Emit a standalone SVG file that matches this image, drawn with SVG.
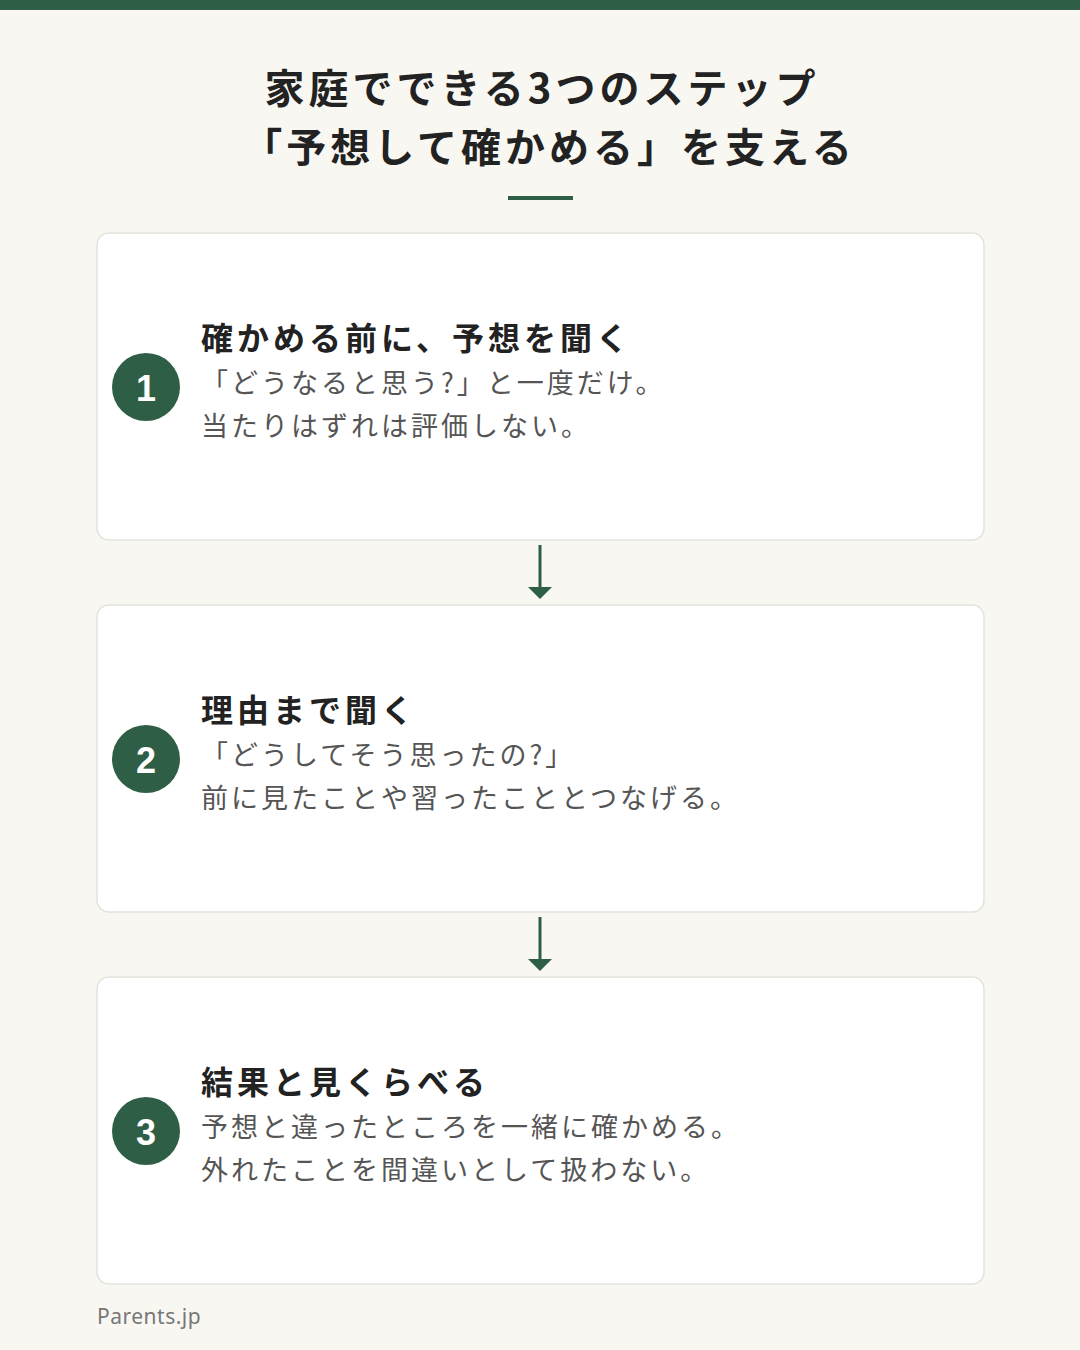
<svg xmlns="http://www.w3.org/2000/svg" width="1080" height="1350" viewBox="0 0 1080 1350">
<style>
.t{font-family:"Noto Sans CJK JP","Noto Sans",sans-serif;}
.h{font-size:40px;font-weight:700;fill:#222;text-anchor:middle;letter-spacing:4px}
.ct{font-size:32px;font-weight:700;fill:#222;letter-spacing:4px}
.b{font-size:27px;fill:#555;letter-spacing:3px}
.card{fill:#fff;stroke:#e3e3dd;stroke-width:1.5}
.num{fill:#2e5e45}
.nt{font-family:"Liberation Sans",sans-serif;font-size:36px;font-weight:700;fill:#fff;text-anchor:middle}
.c{stroke:#2e5e45;stroke-width:3;fill:none}
</style>
<defs><marker id="ah" viewBox="0 0 24 12" markerWidth="24" markerHeight="12" refX="12" refY="0" orient="0" markerUnits="userSpaceOnUse"><path d="M0,0 L24,0 L12,12z" fill="#2e5e45"/></marker></defs>
<rect width="1080" height="1350" fill="#f8f7f2"/>
<rect width="1080" height="10" fill="#2e5e45"/>
<g id="title">
<text class="t h" x="542" y="103">家庭でできる3つのステップ</text>
<text class="t h" x="549" y="162">「予想して確かめる」を支える</text>
<rect x="508" y="196" width="65" height="4" fill="#2e5e45"/>
</g>
<g id="step1">
<rect class="card" x="97" y="233" width="887" height="307" rx="12"/>
<circle class="num" cx="146" cy="387" r="34"/><text class="nt" x="146" y="401">1</text>
<text class="t ct" x="201" y="350">確かめる前に、予想を聞く</text>
<text class="t b" x="201" y="393">「どうなると思う?」と一度だけ。</text>
<text class="t b" x="201" y="436">当たりはずれは評価しない。</text>
</g>
<g id="step2">
<rect class="card" x="97" y="605" width="887" height="307" rx="12"/>
<circle class="num" cx="146" cy="759" r="34"/><text class="nt" x="146" y="773">2</text>
<text class="t ct" x="201" y="722">理由まで聞く</text>
<text class="t b" x="201" y="765">「どうしてそう思ったの?」</text>
<text class="t b" x="201" y="808">前に見たことや習ったこととつなげる。</text>
</g>
<g id="step3">
<rect class="card" x="97" y="977" width="887" height="307" rx="12"/>
<circle class="num" cx="146" cy="1131" r="34"/><text class="nt" x="146" y="1145">3</text>
<text class="t ct" x="201" y="1094">結果と見くらべる</text>
<text class="t b" x="201" y="1137">予想と違ったところを一緒に確かめる。</text>
<text class="t b" x="201" y="1180">外れたことを間違いとして扱わない。</text>
</g>
<g id="connectors">
<line class="c" x1="540" y1="545" x2="540" y2="587" marker-end="url(#ah)"/>
<line class="c" x1="540" y1="917" x2="540" y2="959" marker-end="url(#ah)"/>
</g>
<text x="97" y="1324" font-family="Noto Sans,sans-serif" font-size="21" fill="#777" letter-spacing="0.5">Parents.jp</text>
</svg>
